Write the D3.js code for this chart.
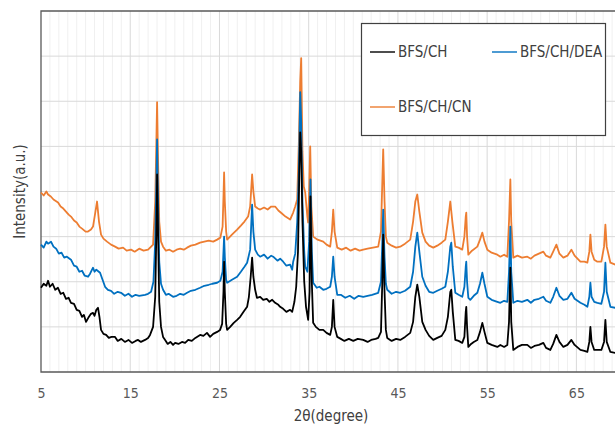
<!DOCTYPE html>
<html lang="en">
<head>
    <meta charset="utf-8">
    <title>XRD patterns</title>
    <script src="https://d3js.org/d3.v7.min.js"></script>
    <style>
        body{ margin:0; background:#fff; overflow:hidden;}
        svg{ display:block; font-family:'Liberation Sans Narrow','DejaVu Sans Condensed','Roboto',sans-serif;}
    </style>
</head>
<body>
<div class="chart"></div>
<script>
// data: [2theta, intensity (a.u.)]
const seriesNames = ["BFS/CH", "BFS/CH/DEA", "BFS/CH/CN"];
const seriesColors = ["#000000", "#0070c0", "#ed7d31"];
const xTicks = [5, 15, 25, 35, 45, 55, 65];

const bfsCH = [
 [5.0,84],[5.3,88],[5.6,86],[5.79,91],[6.0,85],[6.3,88],[6.6,82],[6.9,84],[7.2,78],[7.5,79],[7.8,73],[8.1,74],
 [8.36,69],[8.7,68],[9.0,62],[9.3,61],[9.6,55],[9.8,57],[10.05,50],[10.3,54],[10.6,58],[10.83,59],[11.0,56],
 [11.2,62],[11.39,64],[11.55,55],[11.73,42],[12.0,38],[12.3,37],[12.6,34],[12.9,35],[13.3,35],[13.6,31],[14.0,33],
 [14.4,30],[14.8,32],[15.2,29],[15.6,31],[15.88,32],[16.2,30],[16.66,32],[17.0,34],[17.22,37],[17.56,45],[17.8,75],
 [17.95,150],[18.01,197],[18.1,150],[18.25,70],[18.45,45],[18.68,35],[18.91,32],[19.2,28],[19.5,30],[19.8,27],
 [20.03,29],[20.4,28],[20.8,30],[21.15,29],[21.5,32],[21.9,31],[22.3,34],[22.83,37],[23.2,36],[23.6,39],[23.95,35],
 [24.3,38],[24.74,40],[25.07,42],[25.3,48],[25.45,80],[25.52,110],[25.6,80],[25.75,48],[25.86,42],[26.2,45],
 [26.6,49],[26.98,52],[27.32,55],[27.7,60],[28.1,65],[28.3,75],[28.5,95],[28.66,114],[28.8,95],[29.0,82],[29.2,74],
 [29.56,75],[29.9,72],[30.3,73],[30.6,70],[30.91,72],[31.24,69],[31.6,67],[31.8,65],[32.14,63],[32.5,60],[32.92,62],
 [33.15,60],[33.4,70],[33.6,85],[33.8,120],[33.95,200],[34.05,239],[34.16,220],[34.3,150],[34.5,90],[34.7,65],
 [34.94,52],[35.1,80],[35.2,175],[35.35,90],[35.5,49],[35.8,45],[36.2,42],[36.63,42],[37.0,39],[37.41,37],[37.6,45],
 [37.75,72],[37.9,45],[38.2,35],[38.6,33],[39.0,31],[39.5,33],[40.0,31],[40.5,33],[41.11,32],[41.6,30],[42.0,32],
 [42.5,33],[42.79,34],[43.1,40],[43.25,90],[43.35,137],[43.5,80],[43.65,42],[43.8,34],[44.3,31],[44.8,33],[45.26,32],
 [45.8,35],[46.38,39],[46.7,50],[46.95,75],[47.17,87],[47.4,75],[47.73,50],[48.1,42],[48.5,36],[48.96,32],[49.41,34],
 [49.9,36],[50.31,42],[50.6,55],[50.87,80],[50.98,82],[51.15,60],[51.43,32],[51.8,31],[52.21,29],[52.45,35],[52.6,60],
 [52.66,65],[52.75,45],[52.89,25],[53.2,28],[53.5,30],[53.9,32],[54.2,40],[54.46,49],[54.7,40],[55.02,29],[55.5,27],
 [56.14,25],[56.48,27],[56.9,25],[57.26,27],[57.45,50],[57.6,104],[57.7,50],[57.93,22],[58.4,25],[58.9,27],[59.5,27],
 [59.9,24],[60.3,26],[60.8,27],[61.3,29],[61.6,24],[62.08,22],[62.4,28],[62.76,37],[63.1,30],[63.54,25],[64.0,27],
 [64.44,32],[64.8,27],[65.45,22],[65.9,21],[66.23,20],[66.45,30],[66.57,45],[66.7,30],[67.0,22],[67.35,22],[67.8,22],
 [68.1,30],[68.25,52],[68.4,30],[68.81,20],[69.37,19],[70.0,19]
];

const bfsCHDEA = [
 [5.0,127],[5.3,124],[5.6,130],[5.79,128],[6.12,130],[6.4,125],[6.7,123],[7.0,118],[7.3,119],[7.6,114],[7.9,115],
 [8.36,112],[8.7,106],[9.0,105],[9.3,100],[9.6,101],[9.9,96],[10.27,95],[10.5,98],[10.83,104],[11.0,100],[11.2,102],
 [11.62,99],[11.9,92],[12.18,85],[12.5,82],[12.85,81],[13.2,78],[13.6,80],[13.97,79],[14.4,76],[14.8,78],[15.2,75],
 [15.6,77],[16.0,76],[16.66,77],[17.0,78],[17.34,80],[17.6,90],[17.8,130],[17.95,200],[18.01,232],[18.1,180],
 [18.25,110],[18.45,88],[18.68,82],[19.0,77],[19.3,78],[19.8,75],[20.2,76],[20.6,78],[21.0,77],[21.37,79],[21.8,81],
 [22.3,82],[22.83,84],[23.3,86],[23.8,87],[24.2,88],[24.74,89],[25.1,91],[25.35,100],[25.45,120],[25.52,135],
 [25.6,115],[25.75,92],[25.86,89],[26.4,92],[26.98,95],[27.4,100],[27.8,105],[28.1,109],[28.44,122],[28.66,167],
 [28.8,140],[29.0,122],[29.3,117],[29.56,115],[30.0,117],[30.4,113],[30.8,116],[31.02,115],[31.5,111],[31.8,113],
 [32.14,110],[32.5,106],[32.92,107],[33.15,102],[33.26,110],[33.49,118],[33.71,149],[33.9,200],[34.05,279],
 [34.16,250],[34.3,170],[34.5,120],[34.61,105],[34.85,100],[35.05,130],[35.2,192],[35.35,120],[35.5,89],[35.9,84],
 [36.2,85],[36.63,82],[37.0,83],[37.41,85],[37.6,95],[37.75,115],[37.9,95],[38.2,77],[38.6,77],[39.1,74],[39.6,76],
 [40.1,73],[40.6,76],[41.11,75],[41.6,76],[42.1,77],[42.79,79],[43.1,90],[43.25,130],[43.35,162],[43.5,115],
 [43.65,88],[43.8,82],[44.3,78],[44.8,80],[45.26,79],[45.8,81],[46.38,85],[46.7,100],[46.95,125],[47.17,139],
 [47.4,120],[47.73,95],[48.1,86],[48.5,80],[48.96,79],[49.41,81],[49.9,83],[50.31,85],[50.6,100],[50.87,125],
 [50.98,129],[51.15,105],[51.43,79],[51.8,77],[52.21,75],[52.45,85],[52.6,105],[52.66,110],[52.75,90],[52.89,74],
 [53.11,72],[53.5,76],[53.9,79],[54.2,88],[54.46,99],[54.7,88],[55.02,75],[55.5,72],[56.14,70],[56.48,69],[56.9,71],
 [57.26,70],[57.45,100],[57.6,145],[57.7,100],[57.93,69],[58.4,71],[58.9,70],[59.5,72],[59.9,69],[60.3,72],[60.8,73],
 [61.3,75],[61.6,71],[62.08,69],[62.4,75],[62.76,84],[63.1,76],[63.54,72],[64.0,73],[64.44,79],[64.8,73],[65.45,69],
 [65.9,67],[66.23,65],[66.45,75],[66.57,89],[66.7,75],[67.0,70],[67.35,69],[67.8,68],[68.1,80],[68.25,109],[68.4,80],
 [68.81,65],[69.37,64],[70.0,63]
];

const bfsCHCN = [
 [5.0,179],[5.3,176],[5.6,180],[5.79,177],[6.1,175],[6.4,172],[6.91,169],[7.2,165],[7.5,163],[7.8,160],[8.1,157],
 [8.36,155],[8.7,151],[9.0,149],[9.3,145],[9.6,143],[10.0,140],[10.27,140],[10.6,142],[10.83,145],[11.1,160],
 [11.28,170],[11.5,150],[11.73,137],[12.0,133],[12.4,130],[12.85,127],[13.3,125],[13.7,123],[14.2,124],[14.6,121],
 [15.09,122],[15.5,120],[16.0,123],[16.5,121],[17.0,122],[17.34,125],[17.56,127],[17.8,170],[17.95,240],[18.01,269],
 [18.1,220],[18.25,150],[18.45,130],[18.68,125],[19.0,121],[19.4,122],[19.8,120],[20.2,122],[20.6,123],[21.0,122],
 [21.37,124],[21.8,126],[22.3,127],[22.83,129],[23.3,130],[23.8,131],[24.3,130],[24.74,132],[25.1,134],[25.35,145],
 [25.45,175],[25.52,199],[25.6,170],[25.75,140],[25.86,132],[26.4,137],[26.98,142],[27.4,146],[27.8,150],[28.21,155],
 [28.44,165],[28.66,197],[28.8,180],[29.0,165],[29.3,163],[29.56,162],[30.0,164],[30.4,162],[30.8,165],[31.24,165],
 [31.6,161],[32.0,158],[32.4,155],[32.92,152],[33.26,159],[33.49,165],[33.71,172],[33.9,230],[34.05,290],[34.16,313],
 [34.3,220],[34.45,185],[34.61,179],[34.85,155],[34.94,149],[35.05,180],[35.17,225],[35.3,165],[35.5,135],[36.0,132],
 [36.63,130],[37.0,127],[37.41,125],[37.6,140],[37.75,162],[37.9,140],[38.2,124],[38.7,122],[39.2,124],[39.7,121],
 [40.2,123],[40.7,121],[41.11,122],[41.6,123],[42.2,124],[42.79,125],[43.1,140],[43.25,190],[43.35,222],[43.5,170],
 [43.65,135],[43.8,129],[44.3,126],[44.8,124],[45.26,125],[45.8,128],[46.38,132],[46.7,150],[46.95,170],[47.17,177],
 [47.4,160],[47.73,139],[48.1,130],[48.5,126],[48.96,124],[49.41,126],[49.9,129],[50.31,132],[50.6,150],[50.87,170],
 [51.1,150],[51.43,125],[51.8,124],[52.21,122],[52.45,135],[52.6,155],[52.66,159],[52.75,135],[52.89,117],[53.3,121],
 [53.9,125],[54.2,132],[54.46,139],[54.7,130],[55.02,122],[55.5,119],[56.14,117],[56.48,115],[56.9,117],[57.26,115],
 [57.45,150],[57.6,192],[57.7,150],[57.93,114],[58.4,116],[58.9,114],[59.5,115],[59.9,113],[60.3,116],[60.8,118],
 [61.3,120],[61.6,116],[62.08,114],[62.4,120],[62.76,127],[63.1,118],[63.54,114],[64.0,116],[64.44,122],[64.8,116],
 [65.45,110],[65.9,110],[66.23,109],[66.45,120],[66.57,137],[66.7,120],[67.0,112],[67.35,110],[67.8,110],[68.1,125],
 [68.25,147],[68.4,125],[68.81,109],[69.37,107],[70.0,106]
];

const allSeries = [bfsCH, bfsCHDEA, bfsCHCN];

// CHART -----------------------------------
const W = 615, H = 426;
const margin = {top: 11, left: 41, bottom: 54};
const plotRight = 621;   // axis runs to 70, a bit past the window edge

const svg = d3.select(".chart").append("svg")
    .attr("width", W)
    .attr("height", H);

const x = d3.scaleLinear().domain([5, 70]).range([margin.left, plotRight]);
const y = d3.scaleLinear().domain([0, 360]).range([H - margin.bottom, margin.top]);

// minor vertical grid, every degree
svg.append("g")
    .selectAll("line")
    .data(d3.range(6, 70).filter(d => (d - 5) % 10 !== 0))
    .join("line")
    .attr("x1", d => x(d)).attr("x2", d => x(d))
    .attr("y1", y(0)).attr("y2", y(360))
    .attr("stroke", "#f0f0f0").attr("stroke-width", 1);

// major vertical grid
svg.append("g")
    .selectAll("line")
    .data(xTicks.slice(1))
    .join("line")
    .attr("x1", d => x(d)).attr("x2", d => x(d))
    .attr("y1", y(0)).attr("y2", y(360))
    .attr("stroke", "#d9d9d9").attr("stroke-width", 1);

// horizontal grid
svg.append("g")
    .selectAll("line")
    .data(d3.range(45, 360, 45))
    .join("line")
    .attr("x1", x(5)).attr("x2", plotRight)
    .attr("y1", d => y(d)).attr("y2", d => y(d))
    .attr("stroke", "#d9d9d9").attr("stroke-width", 1);

// plot frame: top, left, bottom
svg.append("path")
    .attr("d", `M${plotRight},${y(360)}H${x(5)}V${y(0)}H${plotRight}`)
    .attr("fill", "none")
    .attr("stroke", "#595959")
    .attr("stroke-width", 1.3);

// lines
const line = d3.line().x(d => x(d[0])).y(d => y(d[1]));
[2, 1, 0].forEach(i => {
    svg.append("path")
        .datum(allSeries[i])
        .attr("d", line)
        .attr("fill", "none")
        .attr("stroke", seriesColors[i])
        .attr("stroke-width", 1.8)
        .attr("stroke-linejoin", "round");
});

// x tick labels
const xAxis = d3.axisBottom(x).tickValues(xTicks).tickSize(0).tickPadding(16);
const gx = svg.append("g")
    .attr("transform", `translate(0, ${y(0)})`)
    .call(xAxis);
gx.select(".domain").remove();
gx.selectAll("text")
    .attr("fill", "#595959")
    .attr("font-size", 14)
    .attr("font-family", "'Liberation Sans Narrow','DejaVu Sans Condensed',sans-serif");

// axis titles
svg.append("text")
    .attr("x", (x(5) + plotRight) / 2)
    .attr("y", 421)
    .attr("text-anchor", "middle")
    .attr("font-size", 15)
    .attr("fill", "#404040")
    .text("2θ(degree)");

svg.append("text")
    .attr("transform", `translate(25, ${(y(0) + y(360)) / 2}) rotate(-90)`)
    .attr("text-anchor", "middle")
    .attr("font-size", 15)
    .attr("fill", "#404040")
    .text("Intensity(a.u.)");

// legend
const legend = svg.append("g");
legend.append("rect")
    .attr("x", 361.5).attr("y", 23.5)
    .attr("width", 244).attr("height", 112)
    .attr("fill", "#fff")
    .attr("stroke", "#404040")
    .attr("stroke-width", 1.2);

const legendPos = [[370, 52], [492, 52], [370, 107]];
seriesNames.forEach((name, i) => {
    const [lx, ly] = legendPos[i];
    legend.append("line")
        .attr("x1", lx).attr("x2", lx + 25)
        .attr("y1", ly).attr("y2", ly)
        .attr("stroke", seriesColors[i])
        .attr("stroke-width", 1.4);
    legend.append("text")
        .attr("x", lx + 28)
        .attr("y", ly + 5)
        .attr("font-size", 15)
        .attr("fill", "#404040")
        .text(name);
});
</script>
</body>
</html>
